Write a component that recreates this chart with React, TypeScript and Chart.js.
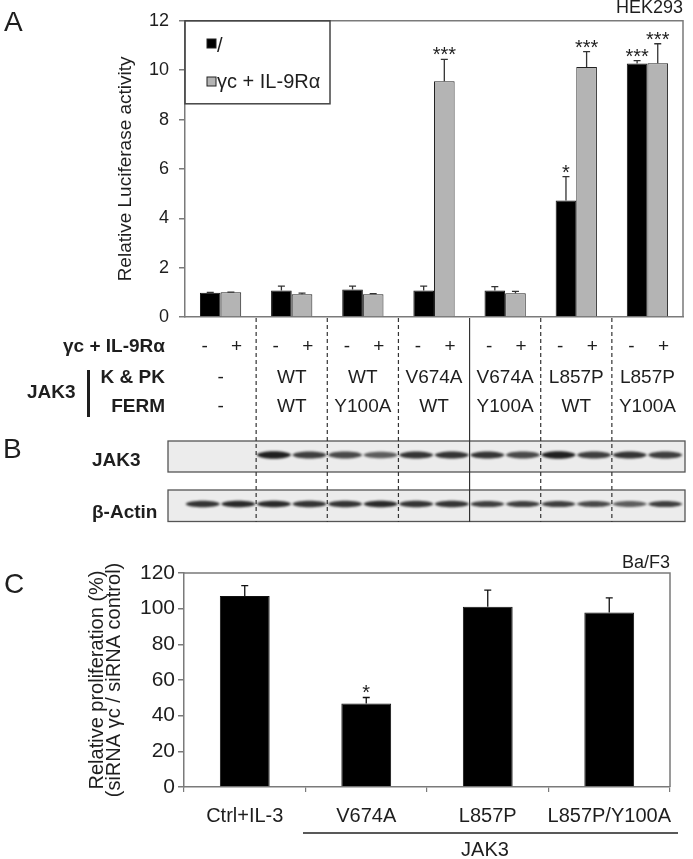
import React, { useEffect, useRef } from 'react';
import { Chart, registerables } from 'chart.js';

Chart.register(...registerables);

const FONT = "'Liberation Sans', Arial, Helvetica, sans-serif";
Chart.defaults.font.family = FONT;
Chart.defaults.color = '#222';

// ---------- Panel A data ----------
const groupLabels = ['-/-', 'WT/WT', 'WT/Y100A', 'V674A/WT', 'V674A/Y100A', 'L857P/WT', 'L857P/Y100A'];
const kpkLabels = ['-', 'WT', 'WT', 'V674A', 'V674A', 'L857P', 'L857P'];
const fermLabels = ['-', 'WT', 'Y100A', 'WT', 'Y100A', 'WT', 'Y100A'];
const receptorSigns = ['-', '+'];
const seriesNames = ['/', 'γc + IL-9Rα'];
const lucNoReceptor = [0.98, 1.07, 1.11, 1.07, 1.07, 4.72, 10.27];
const lucNoReceptorErr = [0.02, 0.18, 0.14, 0.18, 0.16, 0.97, 0.12];
const lucReceptor = [1.0, 0.92, 0.92, 9.55, 0.96, 10.13, 10.28];
const lucReceptorErr = [0.01, 0.05, 0.03, 0.89, 0.08, 0.62, 0.79];
const starsNoReceptor = ['', '', '', '', '', '*', '***'];
const starsReceptor = ['', '', '', '***', '', '***', '***'];
const yTicksA = { min: 0, max: 12, step: 2 };

// ---------- Panel B (blot band intensities, 14 lanes) ----------
const jak3Bands = [0, 0, 1.0, 0.85, 0.8, 0.7, 0.9, 0.9, 0.9, 0.8, 1.0, 0.85, 0.9, 0.85];
const actinBands = [0.9, 0.95, 0.95, 0.9, 0.9, 0.95, 0.9, 0.9, 0.85, 0.85, 0.85, 0.8, 0.7, 0.85];

// ---------- Panel C data ----------
const profLabels = ['Ctrl+IL-3', 'V674A', 'L857P', 'L857P/Y100A'];
const profValues = [107.1, 46.8, 101.1, 97.9];
const profErr = [5.8, 3.4, 9.3, 8.2];
const profStars = ['', '*', '', ''];
const yTicksC = { min: 0, max: 120, step: 20 };

const AXIS = '#7a7a7a';
const TXT = '#1e1e1e';

function drawErrorBars(chart: any, errs: number[][], color: string, cap: number) {
  const { ctx, scales } = chart;
  const y = scales.y;
  ctx.save();
  ctx.strokeStyle = color;
  ctx.lineWidth = 1.3;
  chart.data.datasets.forEach((ds: any, i: number) => {
    const meta = chart.getDatasetMeta(i);
    meta.data.forEach((el: any, j: number) => {
      const v = ds.data[j];
      const top = y.getPixelForValue(v);
      const et = y.getPixelForValue(v + errs[i][j]);
      ctx.beginPath();
      ctx.moveTo(el.x, top);
      ctx.lineTo(el.x, et);
      ctx.moveTo(el.x - cap / 2, et);
      ctx.lineTo(el.x + cap / 2, et);
      ctx.stroke();
    });
  });
  ctx.restore();
}

function drawStars(chart: any, errs: number[][], stars: string[][]) {
  const { ctx, scales } = chart;
  const y = scales.y;
  ctx.save();
  ctx.fillStyle = TXT;
  ctx.font = `20px ${FONT}`;
  ctx.textAlign = 'center';
  ctx.textBaseline = 'alphabetic';
  chart.data.datasets.forEach((ds: any, i: number) => {
    const meta = chart.getDatasetMeta(i);
    meta.data.forEach((el: any, j: number) => {
      const s = stars[i][j];
      if (!s) return;
      const et = y.getPixelForValue(ds.data[j] + errs[i][j]);
      ctx.fillText(s, el.x, et + 2);
    });
  });
  ctx.restore();
}

function frame(chart: any) {
  const { ctx, chartArea: ca } = chart;
  ctx.save();
  ctx.strokeStyle = AXIS;
  ctx.lineWidth = 1.5;
  ctx.beginPath();
  ctx.moveTo(ca.left, ca.top);
  ctx.lineTo(ca.right, ca.top);
  ctx.lineTo(ca.right, ca.bottom);
  ctx.stroke();
  ctx.restore();
}

function band(ctx: CanvasRenderingContext2D, cx: number, cy: number, w: number, h: number, a: number) {
  if (a <= 0) return;
  const l = cx - w / 2;
  const r = cx + w / 2;
  ctx.save();
  ctx.filter = 'blur(1px)';
  ctx.fillStyle = `rgba(20,20,20,${a * 0.95})`;
  ctx.beginPath();
  ctx.moveTo(l, cy);
  ctx.bezierCurveTo(l + w * 0.1, cy - h, r - w * 0.1, cy - h, r, cy);
  ctx.bezierCurveTo(r - w * 0.1, cy + h, l + w * 0.1, cy + h, l, cy);
  ctx.closePath();
  ctx.fill();
  ctx.restore();
}

const panelAPlugin = {
  id: 'panelA',
  afterDraw(chart: any) {
    const { ctx, chartArea: ca, scales } = chart;
    const x = scales.x;
    frame(chart);
    drawErrorBars(chart, [lucNoReceptorErr, lucReceptorErr], '#333', 7);
    drawStars(chart, [lucNoReceptorErr, lucReceptorErr], [starsNoReceptor, starsReceptor]);

    ctx.save();
    // Legend box
    ctx.strokeStyle = '#444';
    ctx.lineWidth = 1.5;
    ctx.strokeRect(ca.left, ca.top, 145, 83);
    const colors = chart.data.datasets.map((d: any) => d.backgroundColor);
    const lys = [39, 77];
    chart.data.datasets.forEach((d: any, i: number) => {
      ctx.fillStyle = colors[i];
      ctx.fillRect(207, lys[i], 9, 9);
      ctx.strokeStyle = '#222';
      ctx.lineWidth = 1;
      ctx.strokeRect(207, lys[i], 9, 9);
      ctx.fillStyle = TXT;
      ctx.font = `20px ${FONT}`;
      ctx.textAlign = 'left';
      ctx.textBaseline = 'alphabetic';
      ctx.fillText(d.label, 217, lys[i] + (i === 0 ? 13 : 11));
    });

    // Titles / panel letters
    ctx.fillStyle = TXT;
    ctx.font = `18px ${FONT}`;
    ctx.textAlign = 'right';
    ctx.textBaseline = 'middle';
    ctx.fillText('HEK293', ca.right, 8);
    ctx.font = `28px ${FONT}`;
    ctx.textAlign = 'left';
    ctx.fillText('A', 4, 23);
    ctx.fillText('B', 3, 450);

    // Table rows
    const catW = x.width / groupLabels.length;
    const centers = groupLabels.map((_, j) => x.getPixelForValue(j));
    const rowY = [347, 378, 407];
    ctx.font = `bold 19px ${FONT}`;
    ctx.textAlign = 'right';
    ctx.fillText('γc + IL-9Rα', 165, rowY[0]);
    ctx.fillText('K & PK', 165, rowY[1]);
    ctx.fillText('FERM', 165, rowY[2]);
    ctx.textAlign = 'left';
    ctx.fillText('JAK3', 27, 393);
    ctx.fillRect(87, 370, 3, 47);
    ctx.font = `19px ${FONT}`;
    ctx.textAlign = 'center';
    centers.forEach((c: number, j: number) => {
      ctx.fillText(receptorSigns[0], c - 16, rowY[0]);
      ctx.fillText(receptorSigns[1], c + 16, rowY[0]);
      ctx.fillText(kpkLabels[j], c, rowY[1]);
      ctx.fillText(fermLabels[j], c, rowY[2]);
    });

    // Blot panel B
    ctx.font = `bold 19px ${FONT}`;
    ctx.textAlign = 'left';
    ctx.fillText('JAK3', 92, 461);
    ctx.fillText('β-Actin', 92, 513);
    const boxes = [
      { top: 441, h: 31, cy: 455, data: jak3Bands, th: 4.5 },
      { top: 490, h: 31.5, cy: 504, data: actinBands, th: 4 },
    ];
    boxes.forEach((b) => {
      ctx.fillStyle = '#ececec';
      ctx.fillRect(168, b.top, 517, b.h);
      for (let j = 0; j < centers.length; j++) {
        for (let k = 0; k < 2; k++) {
          const lane = j * 2 + k;
          const cx = centers[j] + (k === 0 ? -1 : 1) * catW / 4;
          band(ctx, cx, b.cy, catW / 2 - 1, b.th * (0.7 + 0.4 * b.data[lane]), b.data[lane]);
        }
      }
      ctx.strokeStyle = '#555';
      ctx.lineWidth = 1.3;
      ctx.strokeRect(168, b.top, 517, b.h);
    });

    // Group dividers
    ctx.strokeStyle = '#333';
    ctx.lineWidth = 1.2;
    for (let j = 0; j < centers.length - 1; j++) {
      const bx = centers[j] + catW / 2;
      ctx.setLineDash(j === 3 ? [] : [4, 3]);
      ctx.beginPath();
      ctx.moveTo(bx, ca.bottom + 1);
      ctx.lineTo(bx, 522);
      ctx.stroke();
    }
    ctx.setLineDash([]);
    ctx.restore();
  },
};

const panelCPlugin = {
  id: 'panelC',
  afterDraw(chart: any) {
    const { ctx, chartArea: ca } = chart;
    frame(chart);
    drawErrorBars(chart, [profErr], '#111', 7);
    drawStars(chart, [profErr], [profStars]);
    ctx.save();
    ctx.fillStyle = TXT;
    ctx.font = `18px ${FONT}`;
    ctx.textAlign = 'right';
    ctx.textBaseline = 'middle';
    ctx.fillText('Ba/F3', ca.right, 23);
    ctx.font = `28px ${FONT}`;
    ctx.textAlign = 'left';
    ctx.fillText('C', 4, 45);
    ctx.font = `20px ${FONT}`;
    ctx.textAlign = 'center';
    ctx.fillText('JAK3', 485, 310);
    ctx.strokeStyle = '#222';
    ctx.lineWidth = 1.3;
    ctx.beginPath();
    ctx.moveTo(303, 293);
    ctx.lineTo(678, 293);
    ctx.stroke();
    ctx.restore();
  },
};

export default function App() {
  const refA = useRef<HTMLCanvasElement>(null);
  const refC = useRef<HTMLCanvasElement>(null);

  useEffect(() => {
    document.body.style.margin = '0';
    document.body.style.background = '#fff';

    const chartA = new Chart(refA.current as HTMLCanvasElement, {
      type: 'bar',
      data: {
        labels: groupLabels,
        datasets: [
          {
            label: seriesNames[0],
            data: lucNoReceptor,
            backgroundColor: '#000000',
            borderColor: '#111',
            borderWidth: 1,
            categoryPercentage: 0.58,
            barPercentage: 1,
          },
          {
            label: seriesNames[1],
            data: lucReceptor,
            backgroundColor: '#b4b4b4',
            borderColor: '#222',
            borderWidth: 1,
            categoryPercentage: 0.58,
            barPercentage: 1,
          },
        ],
      },
      options: {
        responsive: true,
        maintainAspectRatio: false,
        animation: false,
        layout: { padding: { top: 17, right: 10, bottom: 223, left: 0 } },
        plugins: { legend: { display: false }, tooltip: { enabled: false } },
        scales: {
          x: {
            offset: true,
            grid: { display: false },
            border: { display: true, color: AXIS, width: 1.5 },
            ticks: { display: false },
            afterFit: (s: any) => {
              s.height = 0;
            },
          },
          y: {
            min: yTicksA.min,
            max: yTicksA.max,
            ticks: { stepSize: yTicksA.step, padding: 10, color: TXT, font: { size: 18 } },
            grid: { display: true, drawOnChartArea: false, drawTicks: true, tickLength: 6, color: AXIS, lineWidth: 1.5 },
            border: { display: true, color: AXIS, width: 1.5 },
            title: {
              display: true,
              text: 'Relative Luciferase activity',
              color: TXT,
              font: { size: 19, lineHeight: '20px' },
              padding: { top: 116, bottom: 0 },
            },
            afterFit: (s: any) => {
              s.width = 185;
            },
          },
        },
      } as any,
      plugins: [panelAPlugin],
    });

    const chartC = new Chart(refC.current as HTMLCanvasElement, {
      type: 'bar',
      data: {
        labels: profLabels,
        datasets: [
          {
            label: 'Relative proliferation',
            data: profValues,
            backgroundColor: '#000000',
            borderColor: '#111',
            borderWidth: 1,
            categoryPercentage: 0.41,
            barPercentage: 1,
          },
        ],
      },
      options: {
        responsive: true,
        maintainAspectRatio: false,
        animation: false,
        layout: { padding: { top: 33, right: 23, bottom: 0, left: 0 } },
        plugins: { legend: { display: false }, tooltip: { enabled: false } },
        scales: {
          x: {
            offset: true,
            grid: { display: true, offset: true, drawOnChartArea: false, drawTicks: true, tickLength: 5, color: AXIS, lineWidth: 1.2 },
            border: { display: true, color: AXIS, width: 1.5 },
            ticks: { color: TXT, font: { size: 20 }, padding: 12, maxRotation: 0, autoSkip: false },
            afterFit: (s: any) => {
              s.height = 72;
            },
          },
          y: {
            min: yTicksC.min,
            max: yTicksC.max,
            ticks: { stepSize: yTicksC.step, padding: 3, color: TXT, font: { size: 21 } },
            grid: { display: true, drawOnChartArea: false, drawTicks: true, tickLength: 6, color: AXIS, lineWidth: 1.5 },
            border: { display: true, color: AXIS, width: 1.5 },
            title: {
              display: true,
              text: ['Relative proliferation (%)', '(siRNA γc / siRNA control)'],
              color: TXT,
              font: { size: 20, lineHeight: '17px' },
              padding: { top: 89, bottom: 0 },
            },
            afterFit: (s: any) => {
              s.width = 184;
            },
          },
        },
      } as any,
      plugins: [panelCPlugin],
    });

    return () => {
      chartA.destroy();
      chartC.destroy();
    };
  }, []);

  return (
    <div style={{ position: 'relative', width: 693, height: 859, background: '#fff' }}>
      <div style={{ position: 'absolute', left: 0, top: 0, width: 693, height: 540 }}>
        <canvas ref={refA} />
      </div>
      <div style={{ position: 'absolute', left: 0, top: 540, width: 693, height: 319 }}>
        <canvas ref={refC} />
      </div>
    </div>
  );
}
